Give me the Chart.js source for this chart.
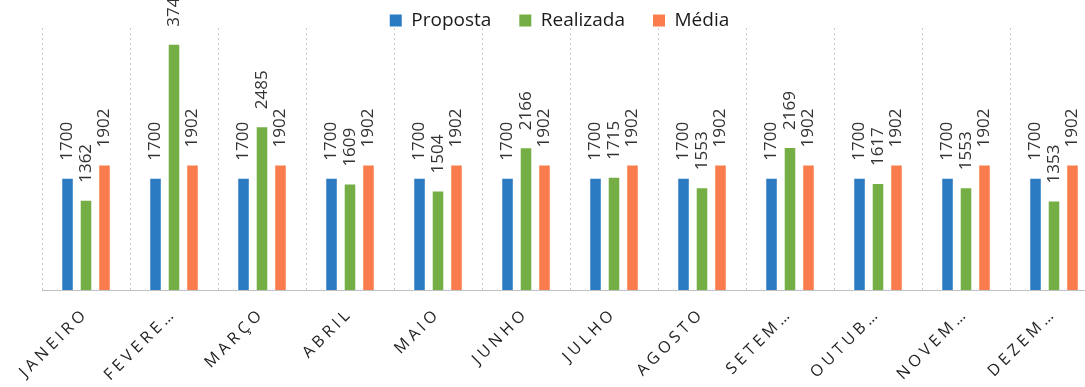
<!DOCTYPE html>
<html>
<head>
<meta charset="utf-8">
<script src="https://cdn.jsdelivr.net/npm/chart.js@4.4.1/dist/chart.umd.min.js"></script>
<style>
  html, body { margin: 0; padding: 0; background: #fff; overflow: hidden; }
  #wrap { width: 1100px; height: 387px; position: relative; }
</style>
</head>
<body>
<div id="wrap"><canvas id="c" width="1100" height="387"></canvas></div>
<script>
const categories = ["JANEIRO", "FEVERE\u2026", "MARÇO", "ABRIL", "MAIO", "JUNHO", "JULHO", "AGOSTO", "SETEM\u2026", "OUTUB\u2026", "NOVEM\u2026", "DEZEM\u2026"];
const proposta  = [1700, 1700, 1700, 1700, 1700, 1700, 1700, 1700, 1700, 1700, 1700, 1700];
const realizada = [1362, 3745, 2485, 1609, 1504, 2166, 1715, 1553, 2169, 1617, 1553, 1353];
const media     = [1902, 1902, 1902, 1902, 1902, 1902, 1902, 1902, 1902, 1902, 1902, 1902];
const seriesNames = ["Proposta", "Realizada", "Média"];

const FONT = "'Open Sans', 'Noto Sans', sans-serif";

const layoutPlugin = {
  id: 'layoutTweaks',
  beforeLayout(chart) {
    const lg = chart.legend;
    if (lg && !lg._patched) {
      const orig = lg.fit;
      lg.fit = function () { orig.call(this); this.height = 28; };
      lg._patched = true;
    }
  },
  afterLayout(chart) {
    const lg = chart.legend;
    if (lg) {
      lg.left = 19; lg.right = 1100; lg.width = 1081;
      lg.top = -17; lg.bottom = 45; lg.height = 62;
    }
  },
  beforeDraw(chart) {
    const s = chart.scales.x;
    if (s && !s._lsPatched) {
      const orig = s.drawLabels;
      s.drawLabels = function (area) {
        const ctx = this.ctx;
        const prev = ctx.letterSpacing;
        ctx.letterSpacing = '4px';
        orig.call(this, area);
        ctx.letterSpacing = prev || '0px';
      };
      s._lsPatched = true;
    }
  }
};

const valueLabels = {
  id: 'valueLabels',
  afterDatasetsDraw(chart) {
    const ctx = chart.ctx;
    ctx.save();
    ctx.font = "17px " + FONT;
    ctx.fillStyle = '#333';
    ctx.textAlign = 'left';
    ctx.textBaseline = 'middle';
    chart.data.datasets.forEach((ds, i) => {
      const meta = chart.getDatasetMeta(i);
      meta.data.forEach((el, j) => {
        ctx.save();
        ctx.translate(el.x, el.y - 18);
        ctx.rotate(-Math.PI / 2);
        ctx.fillText(String(ds.data[j]), 0, 0);
        ctx.restore();
      });
    });
    ctx.restore();
  }
};

new Chart(document.getElementById('c'), {
  type: 'bar',
  data: {
    labels: categories,
    datasets: [
      { label: seriesNames[0], data: proposta,  backgroundColor: '#2b7bc2' },
      { label: seriesNames[1], data: realizada, backgroundColor: '#75ae45' },
      { label: seriesNames[2], data: media,     backgroundColor: '#fb7c4c' }
    ]
  },
  options: {
    responsive: false,
    animation: false,
    layout: { padding: { left: 42, right: 2, top: 0, bottom: 0 } },
    datasets: { bar: { categoryPercentage: 0.63, barPercentage: 0.57 } },
    plugins: {
      legend: {
        position: 'top',
        labels: {
          font: { family: FONT, size: 19 },
          color: '#1a1a1a',
          boxWidth: 12,
          boxHeight: 12,
          padding: 28
        }
      },
      tooltip: { enabled: false }
    },
    scales: {
      y: { display: false, min: 0, max: 4000 },
      x: {
        afterFit(scale) { scale.height = 97; },
        grid: { display: true, color: 'rgba(0,0,0,0.22)', lineWidth: 1, drawTicks: false, offset: true },
        border: { display: true, color: 'rgba(0,0,0,0.25)', width: 1, dash: [2, 3] },
        ticks: {
          autoSkip: false,
          minRotation: 45,
          maxRotation: 45,
          padding: 14,
          color: '#222',
          font: { family: FONT, size: 16 }
        }
      }
    }
  },
  plugins: [layoutPlugin, valueLabels]
});
</script>
</body>
</html>
